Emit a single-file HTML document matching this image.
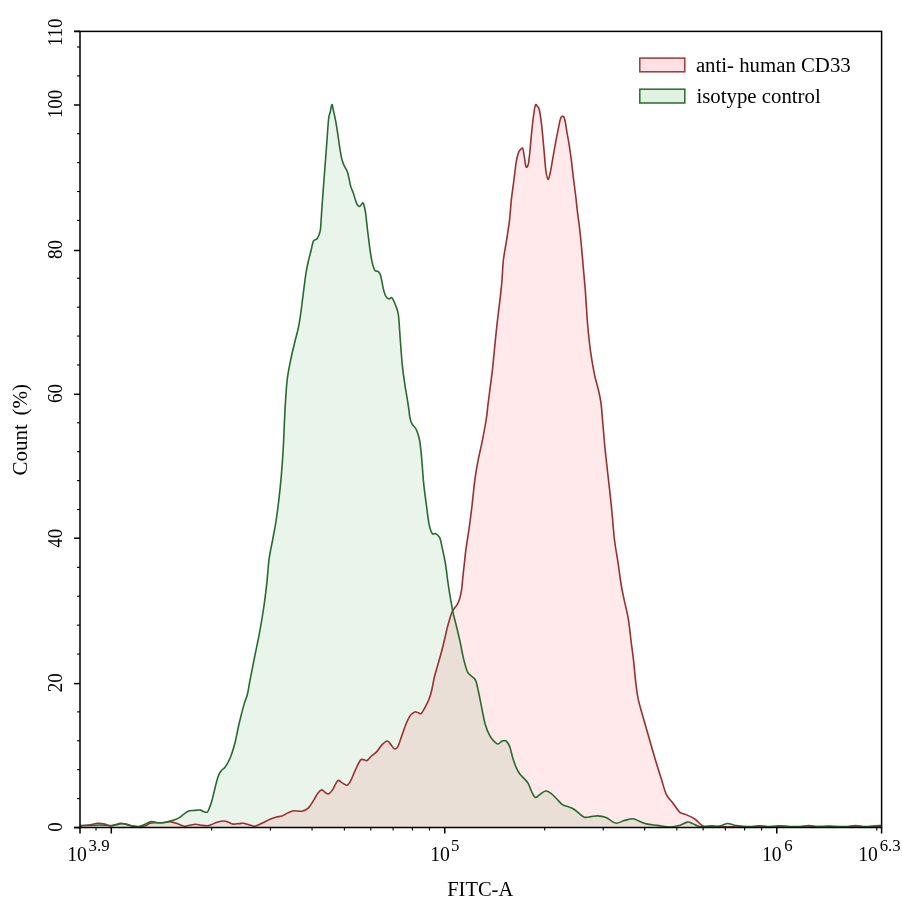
<!DOCTYPE html>
<html><head><meta charset="utf-8"><title>Flow cytometry histogram</title>
<style>
html,body{margin:0;padding:0;background:#fff;}
body{width:902px;height:906px;overflow:hidden;}
svg{display:block;}
.t{font-family:"Liberation Serif","Times New Roman",serif;font-size:20.5px;fill:#000;}
.s{font-family:"Liberation Serif","Times New Roman",serif;font-size:17.5px;fill:#000;}
.l{font-family:"Liberation Serif","Times New Roman",serif;font-size:20.8px;fill:#000;}
</style></head>
<body>
<svg width="902" height="906" viewBox="0 0 902 906">
<rect x="0" y="0" width="902" height="906" fill="#fff"/>
<path d="M80.20 825.50 C81.67 825.50 85.67 825.58 89.00 825.50 C92.33 825.42 96.48 825.00 100.20 825.00 C103.92 825.00 107.62 825.70 111.30 825.50 C114.98 825.30 119.17 823.80 122.30 823.80 C125.43 823.80 127.50 825.03 130.10 825.50 C132.70 825.97 135.50 826.78 137.90 826.60 C140.30 826.42 142.28 825.23 144.50 824.40 C146.72 823.57 148.98 821.88 151.20 821.60 C153.42 821.32 155.22 822.60 157.80 822.70 C160.38 822.80 164.67 822.48 166.70 822.20 C168.73 821.92 168.57 821.43 170.00 821.00 C171.43 820.57 173.67 820.20 175.30 819.60 C176.93 819.00 178.32 818.35 179.80 817.40 C181.28 816.45 182.73 814.97 184.20 813.90 C185.67 812.83 187.12 811.57 188.60 811.00 C190.08 810.43 191.17 810.65 193.10 810.50 C195.03 810.35 198.43 809.92 200.20 810.10 C201.97 810.28 202.52 811.27 203.70 811.60 C204.88 811.93 206.33 812.77 207.30 812.10 C208.27 811.43 208.77 809.38 209.50 807.60 C210.23 805.82 211.03 803.62 211.70 801.40 C212.37 799.18 212.92 796.67 213.50 794.30 C214.08 791.93 214.62 789.55 215.20 787.20 C215.78 784.85 216.33 782.42 217.00 780.20 C217.67 777.98 218.38 775.60 219.20 773.90 C220.02 772.20 220.93 771.10 221.90 770.00 C222.87 768.90 223.90 768.72 225.00 767.30 C226.10 765.88 227.47 763.50 228.50 761.50 C229.53 759.50 230.08 758.55 231.20 755.30 C232.32 752.05 233.93 747.05 235.20 742.00 C236.47 736.95 237.38 731.07 238.80 725.00 C240.22 718.93 242.28 710.65 243.70 705.60 C245.12 700.55 246.28 698.73 247.30 694.70 C248.32 690.67 248.58 687.68 249.80 681.40 C251.02 675.12 252.98 665.10 254.60 657.00 C256.22 648.90 258.00 640.88 259.50 632.80 C261.00 624.72 262.40 616.58 263.60 608.50 C264.80 600.42 265.78 592.55 266.70 584.30 C267.62 576.05 268.08 566.55 269.10 559.00 C270.12 551.45 271.67 545.17 272.80 539.00 C273.93 532.83 274.90 528.47 275.90 522.00 C276.90 515.53 277.90 507.88 278.80 500.20 C279.70 492.52 280.57 484.40 281.30 475.90 C282.03 467.40 282.68 458.10 283.20 449.20 C283.72 440.30 284.03 430.18 284.40 422.50 C284.77 414.82 284.92 410.38 285.40 403.10 C285.88 395.82 286.33 386.40 287.30 378.80 C288.27 371.20 289.90 363.83 291.20 357.50 C292.50 351.17 293.88 345.87 295.10 340.80 C296.32 335.73 297.55 331.75 298.50 327.10 C299.45 322.45 300.12 317.62 300.80 312.90 C301.48 308.18 302.00 303.50 302.60 298.80 C303.20 294.10 303.82 289.10 304.40 284.70 C304.98 280.30 305.47 276.22 306.10 272.40 C306.73 268.58 307.40 265.33 308.20 261.80 C309.00 258.27 310.02 254.68 310.90 251.20 C311.78 247.72 312.47 242.97 313.50 240.90 C314.53 238.83 315.98 240.47 317.10 238.80 C318.22 237.13 319.47 235.02 320.20 230.90 C320.93 226.78 321.08 219.75 321.50 214.10 C321.92 208.45 322.13 204.72 322.70 197.00 C323.27 189.28 324.20 177.07 324.90 167.80 C325.60 158.53 326.28 149.57 326.90 141.40 C327.52 133.23 328.05 123.67 328.60 118.80 C329.15 113.93 329.65 114.58 330.20 112.20 C330.75 109.82 331.35 104.72 331.90 104.50 C332.45 104.28 332.90 108.28 333.50 110.90 C334.10 113.52 334.83 116.67 335.50 120.20 C336.17 123.73 336.85 127.92 337.50 132.10 C338.15 136.28 338.75 141.10 339.40 145.30 C340.05 149.50 340.73 154.20 341.40 157.30 C342.07 160.40 342.73 162.15 343.40 163.90 C344.07 165.65 344.73 166.48 345.40 167.80 C346.07 169.12 346.85 170.25 347.40 171.80 C347.95 173.35 348.15 174.67 348.70 177.10 C349.25 179.53 349.93 183.75 350.70 186.40 C351.47 189.05 352.53 190.80 353.30 193.00 C354.07 195.20 354.63 197.62 355.30 199.60 C355.97 201.58 356.52 203.78 357.30 204.90 C358.08 206.02 359.12 206.63 360.00 206.30 C360.88 205.97 361.95 203.13 362.60 202.90 C363.25 202.67 363.40 203.22 363.90 204.90 C364.40 206.58 364.93 208.32 365.60 213.00 C366.27 217.68 366.98 225.70 367.90 233.00 C368.82 240.30 369.98 250.63 371.10 256.80 C372.22 262.97 373.45 267.58 374.60 270.00 C375.75 272.42 377.00 270.40 378.00 271.30 C379.00 272.20 379.72 272.52 380.60 275.40 C381.48 278.28 382.42 285.10 383.30 288.60 C384.18 292.10 384.93 294.67 385.90 296.40 C386.87 298.13 388.13 298.78 389.10 299.00 C390.07 299.22 390.68 296.82 391.70 297.70 C392.72 298.58 394.08 301.42 395.20 304.30 C396.32 307.18 397.57 309.27 398.40 315.00 C399.23 320.73 399.55 330.33 400.20 338.70 C400.85 347.07 401.52 357.50 402.30 365.20 C403.08 372.90 404.13 379.63 404.90 384.90 C405.67 390.17 406.23 392.67 406.90 396.80 C407.57 400.93 408.40 406.22 408.90 409.70 C409.40 413.18 409.42 415.38 409.90 417.70 C410.38 420.02 410.82 421.78 411.80 423.60 C412.78 425.42 414.80 426.93 415.80 428.60 C416.80 430.27 417.17 431.62 417.80 433.60 C418.43 435.58 419.10 437.87 419.60 440.50 C420.10 443.13 420.43 446.15 420.80 449.40 C421.17 452.65 421.30 454.12 421.80 460.00 C422.30 465.88 423.02 477.07 423.80 484.70 C424.58 492.33 425.62 499.20 426.50 505.80 C427.38 512.40 428.13 519.67 429.10 524.30 C430.07 528.93 431.20 532.05 432.30 533.60 C433.40 535.15 434.47 532.93 435.70 533.60 C436.93 534.27 438.60 535.18 439.70 537.60 C440.80 540.02 441.33 543.70 442.30 548.10 C443.27 552.50 444.62 558.68 445.50 564.00 C446.38 569.32 446.95 575.32 447.60 580.00 C448.25 584.68 448.78 588.25 449.40 592.10 C450.02 595.95 450.68 599.65 451.30 603.10 C451.92 606.55 452.40 609.57 453.10 612.80 C453.80 616.03 454.70 619.27 455.50 622.50 C456.30 625.73 457.08 628.75 457.90 632.20 C458.72 635.65 459.58 639.35 460.40 643.20 C461.22 647.05 462.00 651.67 462.80 655.30 C463.60 658.93 464.38 662.17 465.20 665.00 C466.02 667.83 466.68 670.47 467.70 672.30 C468.72 674.13 470.20 674.98 471.30 676.00 C472.40 677.02 473.48 677.40 474.30 678.40 C475.12 679.40 475.42 679.37 476.20 682.00 C476.98 684.63 478.07 689.85 479.00 694.20 C479.93 698.55 480.77 703.08 481.80 708.10 C482.83 713.12 483.85 719.67 485.20 724.30 C486.55 728.93 488.35 733.00 489.90 735.90 C491.45 738.80 493.15 740.35 494.50 741.70 C495.85 743.05 496.72 744.12 498.00 744.00 C499.28 743.88 500.85 741.50 502.20 741.00 C503.55 740.50 504.87 740.12 506.10 741.00 C507.33 741.88 508.43 743.28 509.60 746.30 C510.77 749.32 511.93 755.42 513.10 759.10 C514.27 762.78 515.45 765.88 516.60 768.40 C517.75 770.92 518.70 772.45 520.00 774.20 C521.30 775.95 523.03 777.37 524.40 778.90 C525.77 780.43 527.00 781.30 528.20 783.40 C529.40 785.50 530.42 789.15 531.60 791.50 C532.78 793.85 533.90 797.02 535.30 797.50 C536.70 797.98 538.30 795.48 540.00 794.40 C541.70 793.32 543.67 791.18 545.50 791.00 C547.33 790.82 549.15 792.00 551.00 793.30 C552.85 794.60 554.75 796.95 556.60 798.80 C558.45 800.65 560.25 803.10 562.10 804.40 C563.95 805.70 565.85 805.87 567.70 806.60 C569.55 807.33 571.35 807.70 573.20 808.80 C575.05 809.90 576.95 811.80 578.80 813.20 C580.65 814.60 582.27 816.63 584.30 817.20 C586.33 817.77 588.78 816.82 591.00 816.60 C593.22 816.38 595.20 815.80 597.60 815.90 C600.00 816.00 603.18 816.42 605.40 817.20 C607.62 817.98 609.05 819.60 610.90 820.60 C612.75 821.60 614.28 823.20 616.50 823.20 C618.72 823.20 621.43 821.33 624.20 820.60 C626.97 819.87 630.52 818.67 633.10 818.80 C635.68 818.93 637.48 820.55 639.70 821.40 C641.92 822.25 643.43 823.23 646.40 823.90 C649.37 824.57 653.43 824.88 657.50 825.40 C661.57 825.92 667.12 827.00 670.80 827.00 C674.48 827.00 676.83 826.22 679.60 825.40 C682.37 824.58 685.17 822.38 687.40 822.10 C689.63 821.82 690.97 822.97 693.00 823.70 C695.03 824.43 696.40 826.02 699.60 826.50 C702.80 826.98 708.63 826.73 712.20 826.60 C715.77 826.47 718.42 826.22 721.00 825.70 C723.58 825.18 725.48 823.58 727.70 823.50 C729.92 823.42 731.72 824.73 734.30 825.20 C736.88 825.67 740.25 826.07 743.20 826.30 C746.15 826.53 749.23 826.70 752.00 826.60 C754.77 826.50 757.20 825.70 759.80 825.70 C762.40 825.70 764.45 826.60 767.60 826.60 C770.75 826.60 775.00 825.70 778.70 825.70 C782.40 825.70 786.25 826.47 789.80 826.60 C793.35 826.73 796.80 826.68 800.00 826.50 C803.20 826.32 806.00 825.48 809.00 825.50 C812.00 825.52 814.50 826.42 818.00 826.60 C821.50 826.78 825.50 826.60 830.00 826.60 C834.50 826.60 840.75 826.78 845.00 826.60 C849.25 826.42 852.00 825.50 855.50 825.50 C859.00 825.50 862.03 826.60 866.00 826.60 C869.97 826.60 876.80 825.63 879.30 825.50 C881.80 825.37 880.72 825.75 881.00 825.80 L881.00 827.50 L80.20 827.50 Z" fill="#e9f4eb"/>
<path d="M80.20 826.00 C81.67 825.83 86.03 825.45 89.00 825.00 C91.97 824.55 95.40 823.45 98.00 823.30 C100.60 823.15 102.38 823.65 104.60 824.10 C106.82 824.55 108.72 826.13 111.30 826.00 C113.88 825.87 117.52 823.57 120.10 823.30 C122.68 823.03 124.22 823.85 126.80 824.40 C129.38 824.95 132.65 826.33 135.60 826.60 C138.55 826.87 142.08 826.55 144.50 826.00 C146.92 825.45 148.25 823.85 150.10 823.30 C151.95 822.75 153.57 822.80 155.60 822.70 C157.63 822.60 159.90 822.88 162.30 822.70 C164.70 822.52 167.53 821.45 170.00 821.60 C172.47 821.75 174.73 822.82 177.10 823.60 C179.47 824.38 182.13 826.03 184.20 826.30 C186.27 826.57 187.58 825.53 189.50 825.20 C191.42 824.87 193.78 824.30 195.70 824.30 C197.62 824.30 199.07 824.95 201.00 825.20 C202.93 825.45 205.52 825.92 207.30 825.80 C209.08 825.68 210.08 825.08 211.70 824.50 C213.32 823.92 214.93 822.88 217.00 822.30 C219.07 821.72 222.18 821.00 224.10 821.00 C226.02 821.00 227.02 821.78 228.50 822.30 C229.98 822.82 231.22 823.88 233.00 824.10 C234.78 824.32 237.43 823.75 239.20 823.60 C240.97 823.45 242.13 823.05 243.60 823.20 C245.07 823.35 246.27 824.00 248.00 824.50 C249.73 825.00 252.33 826.10 254.00 826.20 C255.67 826.30 256.45 825.72 258.00 825.10 C259.55 824.48 261.30 823.48 263.30 822.50 C265.30 821.52 267.78 820.13 270.00 819.20 C272.22 818.27 274.62 817.42 276.60 816.90 C278.58 816.38 279.90 816.83 281.90 816.10 C283.90 815.37 286.60 813.38 288.60 812.50 C290.60 811.62 291.68 811.02 293.90 810.80 C296.12 810.58 299.47 811.70 301.90 811.20 C304.33 810.70 306.50 809.68 308.50 807.80 C310.50 805.92 312.35 802.33 313.90 799.90 C315.45 797.47 316.48 794.87 317.80 793.20 C319.12 791.53 320.57 790.02 321.80 789.90 C323.03 789.78 324.08 791.83 325.20 792.50 C326.32 793.17 327.28 794.33 328.50 793.90 C329.72 793.47 330.95 792.12 332.50 789.90 C334.05 787.68 336.25 781.82 337.80 780.60 C339.35 779.38 340.25 781.83 341.80 782.60 C343.35 783.37 345.55 785.65 347.10 785.20 C348.65 784.75 349.77 782.33 351.10 779.90 C352.43 777.47 353.58 773.83 355.10 770.60 C356.62 767.37 358.80 762.33 360.20 760.50 C361.60 758.67 362.35 759.60 363.50 759.60 C364.65 759.60 365.77 761.10 367.10 760.50 C368.43 759.90 369.88 757.48 371.50 756.00 C373.12 754.52 375.03 753.50 376.80 751.60 C378.57 749.70 380.33 746.37 382.10 744.60 C383.87 742.83 385.93 741.00 387.40 741.00 C388.87 741.00 389.72 743.27 390.90 744.60 C392.08 745.93 393.32 748.72 394.50 749.00 C395.68 749.28 396.83 748.37 398.00 746.30 C399.17 744.23 400.18 740.28 401.50 736.60 C402.82 732.92 404.42 727.73 405.90 724.20 C407.38 720.67 408.92 717.45 410.40 715.40 C411.88 713.35 413.48 712.33 414.80 711.90 C416.12 711.47 417.27 712.52 418.30 712.80 C419.33 713.08 419.97 714.35 421.00 713.60 C422.03 712.85 423.18 710.65 424.50 708.30 C425.82 705.95 427.72 702.43 428.90 699.50 C430.08 696.57 430.67 694.53 431.60 690.70 C432.53 686.87 433.52 680.63 434.50 676.50 C435.48 672.37 436.37 669.90 437.50 665.90 C438.63 661.90 440.12 656.93 441.30 652.50 C442.48 648.07 443.65 643.28 444.60 639.30 C445.55 635.32 446.20 631.80 447.00 628.60 C447.80 625.40 448.58 622.83 449.40 620.10 C450.22 617.37 451.08 614.13 451.90 612.20 C452.72 610.27 453.40 609.82 454.30 608.50 C455.20 607.18 456.38 606.02 457.30 604.30 C458.22 602.58 459.08 600.63 459.80 598.20 C460.52 595.77 461.10 593.07 461.60 589.70 C462.10 586.33 462.32 582.62 462.80 578.00 C463.28 573.38 463.95 566.98 464.50 562.00 C465.05 557.02 465.30 553.93 466.10 548.10 C466.90 542.27 468.32 534.05 469.30 527.00 C470.28 519.95 471.07 513.73 472.00 505.80 C472.93 497.87 473.90 486.90 474.90 479.40 C475.90 471.90 476.82 466.98 478.00 460.80 C479.18 454.62 480.62 449.27 482.00 442.30 C483.38 435.33 485.28 425.45 486.30 419.00 C487.32 412.55 487.47 408.75 488.10 403.60 C488.73 398.45 489.43 393.25 490.10 388.10 C490.77 382.95 491.50 377.85 492.10 372.70 C492.70 367.55 493.18 362.35 493.70 357.20 C494.22 352.05 494.68 346.95 495.20 341.80 C495.72 336.65 496.23 331.45 496.80 326.30 C497.37 321.15 497.98 316.05 498.60 310.90 C499.22 305.75 499.93 300.55 500.50 295.40 C501.07 290.25 501.52 285.90 502.00 280.00 C502.48 274.10 502.65 266.57 503.40 260.00 C504.15 253.43 505.50 247.08 506.50 240.60 C507.50 234.12 508.58 227.98 509.40 221.10 C510.22 214.22 510.67 205.97 511.40 199.30 C512.13 192.63 513.03 187.08 513.80 181.10 C514.57 175.12 515.27 168.00 516.00 163.40 C516.73 158.80 517.45 155.80 518.20 153.50 C518.95 151.20 519.75 150.43 520.50 149.60 C521.25 148.77 522.07 147.30 522.70 148.50 C523.33 149.70 523.75 153.77 524.30 156.80 C524.85 159.83 525.35 165.42 526.00 166.70 C526.65 167.98 527.57 166.88 528.20 164.50 C528.83 162.12 529.25 157.55 529.80 152.40 C530.35 147.25 530.88 139.67 531.50 133.60 C532.12 127.53 532.85 120.77 533.50 116.00 C534.15 111.23 534.72 106.57 535.40 105.00 C536.08 103.43 536.97 105.88 537.60 106.60 C538.23 107.32 538.65 107.18 539.20 109.30 C539.75 111.42 540.35 115.25 540.90 119.30 C541.45 123.35 541.95 128.08 542.50 133.60 C543.05 139.12 543.65 146.33 544.20 152.40 C544.75 158.47 545.17 165.50 545.80 170.00 C546.43 174.50 547.25 179.02 548.00 179.40 C548.75 179.78 549.55 175.52 550.30 172.30 C551.05 169.08 551.68 164.70 552.50 160.10 C553.32 155.50 554.28 149.67 555.20 144.70 C556.12 139.73 557.08 134.72 558.00 130.30 C558.92 125.88 559.78 120.50 560.70 118.20 C561.62 115.90 562.75 115.95 563.50 116.50 C564.25 117.05 564.65 119.02 565.20 121.50 C565.75 123.98 566.17 127.72 566.80 131.40 C567.43 135.08 568.27 139.00 569.00 143.60 C569.73 148.20 570.47 153.30 571.20 159.00 C571.93 164.70 572.67 171.80 573.40 177.80 C574.13 183.80 574.93 189.40 575.60 195.00 C576.27 200.60 576.68 205.43 577.40 211.40 C578.12 217.37 579.17 224.32 579.90 230.80 C580.63 237.28 581.20 243.82 581.80 250.30 C582.40 256.78 582.93 263.23 583.50 269.70 C584.07 276.17 584.68 282.38 585.20 289.10 C585.72 295.82 586.17 303.77 586.60 310.00 C587.03 316.23 587.17 319.78 587.80 326.50 C588.43 333.22 589.30 342.37 590.40 350.30 C591.50 358.23 593.07 367.48 594.40 374.10 C595.73 380.72 597.30 385.15 598.40 390.00 C599.50 394.85 600.25 397.48 601.00 403.20 C601.75 408.92 602.23 416.82 602.90 424.30 C603.57 431.78 604.22 440.15 605.00 448.10 C605.78 456.05 606.72 464.05 607.60 472.00 C608.48 479.95 609.50 488.30 610.30 495.80 C611.10 503.30 611.70 509.63 612.40 517.00 C613.10 524.37 613.60 532.63 614.50 540.00 C615.40 547.37 616.68 553.70 617.80 561.20 C618.92 568.70 620.10 578.40 621.20 585.00 C622.30 591.60 623.20 595.07 624.40 600.80 C625.60 606.53 627.30 612.78 628.40 619.40 C629.50 626.02 630.12 633.45 631.00 640.50 C631.88 647.55 632.95 655.08 633.70 661.70 C634.45 668.32 634.77 674.03 635.50 680.20 C636.23 686.37 636.95 692.97 638.10 698.70 C639.25 704.43 640.93 709.30 642.40 714.60 C643.87 719.90 645.27 724.77 646.90 730.50 C648.53 736.23 650.67 743.72 652.20 749.00 C653.73 754.28 655.00 758.53 656.10 762.20 C657.20 765.87 657.82 767.87 658.80 771.00 C659.78 774.13 660.75 777.10 662.00 781.00 C663.25 784.90 664.47 790.68 666.30 794.40 C668.13 798.12 670.78 800.35 673.00 803.30 C675.22 806.25 677.75 810.33 679.60 812.10 C681.45 813.87 682.25 813.15 684.10 813.90 C685.95 814.65 688.80 815.67 690.70 816.60 C692.60 817.53 693.78 818.17 695.50 819.50 C697.22 820.83 699.52 823.47 701.00 824.60 C702.48 825.73 702.53 826.12 704.40 826.30 C706.27 826.48 709.80 825.62 712.20 825.70 C714.60 825.78 714.17 826.62 718.80 826.80 C723.43 826.98 733.13 826.80 740.00 826.80 C746.87 826.80 753.33 826.80 760.00 826.80 C766.67 826.80 773.33 826.80 780.00 826.80 C786.67 826.80 793.33 826.85 800.00 826.80 C806.67 826.75 815.08 826.63 820.00 826.50 C824.92 826.37 826.17 825.95 829.50 826.00 C832.83 826.05 831.42 826.67 840.00 826.80 C848.58 826.93 874.17 826.80 881.00 826.80 L881.00 827.50 L80.20 827.50 Z" fill="#ffe9ea" style="mix-blend-mode:multiply"/>
<path d="M80.20 826.00 C81.67 825.83 86.03 825.45 89.00 825.00 C91.97 824.55 95.40 823.45 98.00 823.30 C100.60 823.15 102.38 823.65 104.60 824.10 C106.82 824.55 108.72 826.13 111.30 826.00 C113.88 825.87 117.52 823.57 120.10 823.30 C122.68 823.03 124.22 823.85 126.80 824.40 C129.38 824.95 132.65 826.33 135.60 826.60 C138.55 826.87 142.08 826.55 144.50 826.00 C146.92 825.45 148.25 823.85 150.10 823.30 C151.95 822.75 153.57 822.80 155.60 822.70 C157.63 822.60 159.90 822.88 162.30 822.70 C164.70 822.52 167.53 821.45 170.00 821.60 C172.47 821.75 174.73 822.82 177.10 823.60 C179.47 824.38 182.13 826.03 184.20 826.30 C186.27 826.57 187.58 825.53 189.50 825.20 C191.42 824.87 193.78 824.30 195.70 824.30 C197.62 824.30 199.07 824.95 201.00 825.20 C202.93 825.45 205.52 825.92 207.30 825.80 C209.08 825.68 210.08 825.08 211.70 824.50 C213.32 823.92 214.93 822.88 217.00 822.30 C219.07 821.72 222.18 821.00 224.10 821.00 C226.02 821.00 227.02 821.78 228.50 822.30 C229.98 822.82 231.22 823.88 233.00 824.10 C234.78 824.32 237.43 823.75 239.20 823.60 C240.97 823.45 242.13 823.05 243.60 823.20 C245.07 823.35 246.27 824.00 248.00 824.50 C249.73 825.00 252.33 826.10 254.00 826.20 C255.67 826.30 256.45 825.72 258.00 825.10 C259.55 824.48 261.30 823.48 263.30 822.50 C265.30 821.52 267.78 820.13 270.00 819.20 C272.22 818.27 274.62 817.42 276.60 816.90 C278.58 816.38 279.90 816.83 281.90 816.10 C283.90 815.37 286.60 813.38 288.60 812.50 C290.60 811.62 291.68 811.02 293.90 810.80 C296.12 810.58 299.47 811.70 301.90 811.20 C304.33 810.70 306.50 809.68 308.50 807.80 C310.50 805.92 312.35 802.33 313.90 799.90 C315.45 797.47 316.48 794.87 317.80 793.20 C319.12 791.53 320.57 790.02 321.80 789.90 C323.03 789.78 324.08 791.83 325.20 792.50 C326.32 793.17 327.28 794.33 328.50 793.90 C329.72 793.47 330.95 792.12 332.50 789.90 C334.05 787.68 336.25 781.82 337.80 780.60 C339.35 779.38 340.25 781.83 341.80 782.60 C343.35 783.37 345.55 785.65 347.10 785.20 C348.65 784.75 349.77 782.33 351.10 779.90 C352.43 777.47 353.58 773.83 355.10 770.60 C356.62 767.37 358.80 762.33 360.20 760.50 C361.60 758.67 362.35 759.60 363.50 759.60 C364.65 759.60 365.77 761.10 367.10 760.50 C368.43 759.90 369.88 757.48 371.50 756.00 C373.12 754.52 375.03 753.50 376.80 751.60 C378.57 749.70 380.33 746.37 382.10 744.60 C383.87 742.83 385.93 741.00 387.40 741.00 C388.87 741.00 389.72 743.27 390.90 744.60 C392.08 745.93 393.32 748.72 394.50 749.00 C395.68 749.28 396.83 748.37 398.00 746.30 C399.17 744.23 400.18 740.28 401.50 736.60 C402.82 732.92 404.42 727.73 405.90 724.20 C407.38 720.67 408.92 717.45 410.40 715.40 C411.88 713.35 413.48 712.33 414.80 711.90 C416.12 711.47 417.27 712.52 418.30 712.80 C419.33 713.08 419.97 714.35 421.00 713.60 C422.03 712.85 423.18 710.65 424.50 708.30 C425.82 705.95 427.72 702.43 428.90 699.50 C430.08 696.57 430.67 694.53 431.60 690.70 C432.53 686.87 433.52 680.63 434.50 676.50 C435.48 672.37 436.37 669.90 437.50 665.90 C438.63 661.90 440.12 656.93 441.30 652.50 C442.48 648.07 443.65 643.28 444.60 639.30 C445.55 635.32 446.20 631.80 447.00 628.60 C447.80 625.40 448.58 622.83 449.40 620.10 C450.22 617.37 451.08 614.13 451.90 612.20 C452.72 610.27 453.40 609.82 454.30 608.50 C455.20 607.18 456.38 606.02 457.30 604.30 C458.22 602.58 459.08 600.63 459.80 598.20 C460.52 595.77 461.10 593.07 461.60 589.70 C462.10 586.33 462.32 582.62 462.80 578.00 C463.28 573.38 463.95 566.98 464.50 562.00 C465.05 557.02 465.30 553.93 466.10 548.10 C466.90 542.27 468.32 534.05 469.30 527.00 C470.28 519.95 471.07 513.73 472.00 505.80 C472.93 497.87 473.90 486.90 474.90 479.40 C475.90 471.90 476.82 466.98 478.00 460.80 C479.18 454.62 480.62 449.27 482.00 442.30 C483.38 435.33 485.28 425.45 486.30 419.00 C487.32 412.55 487.47 408.75 488.10 403.60 C488.73 398.45 489.43 393.25 490.10 388.10 C490.77 382.95 491.50 377.85 492.10 372.70 C492.70 367.55 493.18 362.35 493.70 357.20 C494.22 352.05 494.68 346.95 495.20 341.80 C495.72 336.65 496.23 331.45 496.80 326.30 C497.37 321.15 497.98 316.05 498.60 310.90 C499.22 305.75 499.93 300.55 500.50 295.40 C501.07 290.25 501.52 285.90 502.00 280.00 C502.48 274.10 502.65 266.57 503.40 260.00 C504.15 253.43 505.50 247.08 506.50 240.60 C507.50 234.12 508.58 227.98 509.40 221.10 C510.22 214.22 510.67 205.97 511.40 199.30 C512.13 192.63 513.03 187.08 513.80 181.10 C514.57 175.12 515.27 168.00 516.00 163.40 C516.73 158.80 517.45 155.80 518.20 153.50 C518.95 151.20 519.75 150.43 520.50 149.60 C521.25 148.77 522.07 147.30 522.70 148.50 C523.33 149.70 523.75 153.77 524.30 156.80 C524.85 159.83 525.35 165.42 526.00 166.70 C526.65 167.98 527.57 166.88 528.20 164.50 C528.83 162.12 529.25 157.55 529.80 152.40 C530.35 147.25 530.88 139.67 531.50 133.60 C532.12 127.53 532.85 120.77 533.50 116.00 C534.15 111.23 534.72 106.57 535.40 105.00 C536.08 103.43 536.97 105.88 537.60 106.60 C538.23 107.32 538.65 107.18 539.20 109.30 C539.75 111.42 540.35 115.25 540.90 119.30 C541.45 123.35 541.95 128.08 542.50 133.60 C543.05 139.12 543.65 146.33 544.20 152.40 C544.75 158.47 545.17 165.50 545.80 170.00 C546.43 174.50 547.25 179.02 548.00 179.40 C548.75 179.78 549.55 175.52 550.30 172.30 C551.05 169.08 551.68 164.70 552.50 160.10 C553.32 155.50 554.28 149.67 555.20 144.70 C556.12 139.73 557.08 134.72 558.00 130.30 C558.92 125.88 559.78 120.50 560.70 118.20 C561.62 115.90 562.75 115.95 563.50 116.50 C564.25 117.05 564.65 119.02 565.20 121.50 C565.75 123.98 566.17 127.72 566.80 131.40 C567.43 135.08 568.27 139.00 569.00 143.60 C569.73 148.20 570.47 153.30 571.20 159.00 C571.93 164.70 572.67 171.80 573.40 177.80 C574.13 183.80 574.93 189.40 575.60 195.00 C576.27 200.60 576.68 205.43 577.40 211.40 C578.12 217.37 579.17 224.32 579.90 230.80 C580.63 237.28 581.20 243.82 581.80 250.30 C582.40 256.78 582.93 263.23 583.50 269.70 C584.07 276.17 584.68 282.38 585.20 289.10 C585.72 295.82 586.17 303.77 586.60 310.00 C587.03 316.23 587.17 319.78 587.80 326.50 C588.43 333.22 589.30 342.37 590.40 350.30 C591.50 358.23 593.07 367.48 594.40 374.10 C595.73 380.72 597.30 385.15 598.40 390.00 C599.50 394.85 600.25 397.48 601.00 403.20 C601.75 408.92 602.23 416.82 602.90 424.30 C603.57 431.78 604.22 440.15 605.00 448.10 C605.78 456.05 606.72 464.05 607.60 472.00 C608.48 479.95 609.50 488.30 610.30 495.80 C611.10 503.30 611.70 509.63 612.40 517.00 C613.10 524.37 613.60 532.63 614.50 540.00 C615.40 547.37 616.68 553.70 617.80 561.20 C618.92 568.70 620.10 578.40 621.20 585.00 C622.30 591.60 623.20 595.07 624.40 600.80 C625.60 606.53 627.30 612.78 628.40 619.40 C629.50 626.02 630.12 633.45 631.00 640.50 C631.88 647.55 632.95 655.08 633.70 661.70 C634.45 668.32 634.77 674.03 635.50 680.20 C636.23 686.37 636.95 692.97 638.10 698.70 C639.25 704.43 640.93 709.30 642.40 714.60 C643.87 719.90 645.27 724.77 646.90 730.50 C648.53 736.23 650.67 743.72 652.20 749.00 C653.73 754.28 655.00 758.53 656.10 762.20 C657.20 765.87 657.82 767.87 658.80 771.00 C659.78 774.13 660.75 777.10 662.00 781.00 C663.25 784.90 664.47 790.68 666.30 794.40 C668.13 798.12 670.78 800.35 673.00 803.30 C675.22 806.25 677.75 810.33 679.60 812.10 C681.45 813.87 682.25 813.15 684.10 813.90 C685.95 814.65 688.80 815.67 690.70 816.60 C692.60 817.53 693.78 818.17 695.50 819.50 C697.22 820.83 699.52 823.47 701.00 824.60 C702.48 825.73 702.53 826.12 704.40 826.30 C706.27 826.48 709.80 825.62 712.20 825.70 C714.60 825.78 714.17 826.62 718.80 826.80 C723.43 826.98 733.13 826.80 740.00 826.80 C746.87 826.80 753.33 826.80 760.00 826.80 C766.67 826.80 773.33 826.80 780.00 826.80 C786.67 826.80 793.33 826.85 800.00 826.80 C806.67 826.75 815.08 826.63 820.00 826.50 C824.92 826.37 826.17 825.95 829.50 826.00 C832.83 826.05 831.42 826.67 840.00 826.80 C848.58 826.93 874.17 826.80 881.00 826.80" fill="none" stroke="#983030" stroke-width="1.6" stroke-linejoin="round"/>
<path d="M80.20 825.50 C81.67 825.50 85.67 825.58 89.00 825.50 C92.33 825.42 96.48 825.00 100.20 825.00 C103.92 825.00 107.62 825.70 111.30 825.50 C114.98 825.30 119.17 823.80 122.30 823.80 C125.43 823.80 127.50 825.03 130.10 825.50 C132.70 825.97 135.50 826.78 137.90 826.60 C140.30 826.42 142.28 825.23 144.50 824.40 C146.72 823.57 148.98 821.88 151.20 821.60 C153.42 821.32 155.22 822.60 157.80 822.70 C160.38 822.80 164.67 822.48 166.70 822.20 C168.73 821.92 168.57 821.43 170.00 821.00 C171.43 820.57 173.67 820.20 175.30 819.60 C176.93 819.00 178.32 818.35 179.80 817.40 C181.28 816.45 182.73 814.97 184.20 813.90 C185.67 812.83 187.12 811.57 188.60 811.00 C190.08 810.43 191.17 810.65 193.10 810.50 C195.03 810.35 198.43 809.92 200.20 810.10 C201.97 810.28 202.52 811.27 203.70 811.60 C204.88 811.93 206.33 812.77 207.30 812.10 C208.27 811.43 208.77 809.38 209.50 807.60 C210.23 805.82 211.03 803.62 211.70 801.40 C212.37 799.18 212.92 796.67 213.50 794.30 C214.08 791.93 214.62 789.55 215.20 787.20 C215.78 784.85 216.33 782.42 217.00 780.20 C217.67 777.98 218.38 775.60 219.20 773.90 C220.02 772.20 220.93 771.10 221.90 770.00 C222.87 768.90 223.90 768.72 225.00 767.30 C226.10 765.88 227.47 763.50 228.50 761.50 C229.53 759.50 230.08 758.55 231.20 755.30 C232.32 752.05 233.93 747.05 235.20 742.00 C236.47 736.95 237.38 731.07 238.80 725.00 C240.22 718.93 242.28 710.65 243.70 705.60 C245.12 700.55 246.28 698.73 247.30 694.70 C248.32 690.67 248.58 687.68 249.80 681.40 C251.02 675.12 252.98 665.10 254.60 657.00 C256.22 648.90 258.00 640.88 259.50 632.80 C261.00 624.72 262.40 616.58 263.60 608.50 C264.80 600.42 265.78 592.55 266.70 584.30 C267.62 576.05 268.08 566.55 269.10 559.00 C270.12 551.45 271.67 545.17 272.80 539.00 C273.93 532.83 274.90 528.47 275.90 522.00 C276.90 515.53 277.90 507.88 278.80 500.20 C279.70 492.52 280.57 484.40 281.30 475.90 C282.03 467.40 282.68 458.10 283.20 449.20 C283.72 440.30 284.03 430.18 284.40 422.50 C284.77 414.82 284.92 410.38 285.40 403.10 C285.88 395.82 286.33 386.40 287.30 378.80 C288.27 371.20 289.90 363.83 291.20 357.50 C292.50 351.17 293.88 345.87 295.10 340.80 C296.32 335.73 297.55 331.75 298.50 327.10 C299.45 322.45 300.12 317.62 300.80 312.90 C301.48 308.18 302.00 303.50 302.60 298.80 C303.20 294.10 303.82 289.10 304.40 284.70 C304.98 280.30 305.47 276.22 306.10 272.40 C306.73 268.58 307.40 265.33 308.20 261.80 C309.00 258.27 310.02 254.68 310.90 251.20 C311.78 247.72 312.47 242.97 313.50 240.90 C314.53 238.83 315.98 240.47 317.10 238.80 C318.22 237.13 319.47 235.02 320.20 230.90 C320.93 226.78 321.08 219.75 321.50 214.10 C321.92 208.45 322.13 204.72 322.70 197.00 C323.27 189.28 324.20 177.07 324.90 167.80 C325.60 158.53 326.28 149.57 326.90 141.40 C327.52 133.23 328.05 123.67 328.60 118.80 C329.15 113.93 329.65 114.58 330.20 112.20 C330.75 109.82 331.35 104.72 331.90 104.50 C332.45 104.28 332.90 108.28 333.50 110.90 C334.10 113.52 334.83 116.67 335.50 120.20 C336.17 123.73 336.85 127.92 337.50 132.10 C338.15 136.28 338.75 141.10 339.40 145.30 C340.05 149.50 340.73 154.20 341.40 157.30 C342.07 160.40 342.73 162.15 343.40 163.90 C344.07 165.65 344.73 166.48 345.40 167.80 C346.07 169.12 346.85 170.25 347.40 171.80 C347.95 173.35 348.15 174.67 348.70 177.10 C349.25 179.53 349.93 183.75 350.70 186.40 C351.47 189.05 352.53 190.80 353.30 193.00 C354.07 195.20 354.63 197.62 355.30 199.60 C355.97 201.58 356.52 203.78 357.30 204.90 C358.08 206.02 359.12 206.63 360.00 206.30 C360.88 205.97 361.95 203.13 362.60 202.90 C363.25 202.67 363.40 203.22 363.90 204.90 C364.40 206.58 364.93 208.32 365.60 213.00 C366.27 217.68 366.98 225.70 367.90 233.00 C368.82 240.30 369.98 250.63 371.10 256.80 C372.22 262.97 373.45 267.58 374.60 270.00 C375.75 272.42 377.00 270.40 378.00 271.30 C379.00 272.20 379.72 272.52 380.60 275.40 C381.48 278.28 382.42 285.10 383.30 288.60 C384.18 292.10 384.93 294.67 385.90 296.40 C386.87 298.13 388.13 298.78 389.10 299.00 C390.07 299.22 390.68 296.82 391.70 297.70 C392.72 298.58 394.08 301.42 395.20 304.30 C396.32 307.18 397.57 309.27 398.40 315.00 C399.23 320.73 399.55 330.33 400.20 338.70 C400.85 347.07 401.52 357.50 402.30 365.20 C403.08 372.90 404.13 379.63 404.90 384.90 C405.67 390.17 406.23 392.67 406.90 396.80 C407.57 400.93 408.40 406.22 408.90 409.70 C409.40 413.18 409.42 415.38 409.90 417.70 C410.38 420.02 410.82 421.78 411.80 423.60 C412.78 425.42 414.80 426.93 415.80 428.60 C416.80 430.27 417.17 431.62 417.80 433.60 C418.43 435.58 419.10 437.87 419.60 440.50 C420.10 443.13 420.43 446.15 420.80 449.40 C421.17 452.65 421.30 454.12 421.80 460.00 C422.30 465.88 423.02 477.07 423.80 484.70 C424.58 492.33 425.62 499.20 426.50 505.80 C427.38 512.40 428.13 519.67 429.10 524.30 C430.07 528.93 431.20 532.05 432.30 533.60 C433.40 535.15 434.47 532.93 435.70 533.60 C436.93 534.27 438.60 535.18 439.70 537.60 C440.80 540.02 441.33 543.70 442.30 548.10 C443.27 552.50 444.62 558.68 445.50 564.00 C446.38 569.32 446.95 575.32 447.60 580.00 C448.25 584.68 448.78 588.25 449.40 592.10 C450.02 595.95 450.68 599.65 451.30 603.10 C451.92 606.55 452.40 609.57 453.10 612.80 C453.80 616.03 454.70 619.27 455.50 622.50 C456.30 625.73 457.08 628.75 457.90 632.20 C458.72 635.65 459.58 639.35 460.40 643.20 C461.22 647.05 462.00 651.67 462.80 655.30 C463.60 658.93 464.38 662.17 465.20 665.00 C466.02 667.83 466.68 670.47 467.70 672.30 C468.72 674.13 470.20 674.98 471.30 676.00 C472.40 677.02 473.48 677.40 474.30 678.40 C475.12 679.40 475.42 679.37 476.20 682.00 C476.98 684.63 478.07 689.85 479.00 694.20 C479.93 698.55 480.77 703.08 481.80 708.10 C482.83 713.12 483.85 719.67 485.20 724.30 C486.55 728.93 488.35 733.00 489.90 735.90 C491.45 738.80 493.15 740.35 494.50 741.70 C495.85 743.05 496.72 744.12 498.00 744.00 C499.28 743.88 500.85 741.50 502.20 741.00 C503.55 740.50 504.87 740.12 506.10 741.00 C507.33 741.88 508.43 743.28 509.60 746.30 C510.77 749.32 511.93 755.42 513.10 759.10 C514.27 762.78 515.45 765.88 516.60 768.40 C517.75 770.92 518.70 772.45 520.00 774.20 C521.30 775.95 523.03 777.37 524.40 778.90 C525.77 780.43 527.00 781.30 528.20 783.40 C529.40 785.50 530.42 789.15 531.60 791.50 C532.78 793.85 533.90 797.02 535.30 797.50 C536.70 797.98 538.30 795.48 540.00 794.40 C541.70 793.32 543.67 791.18 545.50 791.00 C547.33 790.82 549.15 792.00 551.00 793.30 C552.85 794.60 554.75 796.95 556.60 798.80 C558.45 800.65 560.25 803.10 562.10 804.40 C563.95 805.70 565.85 805.87 567.70 806.60 C569.55 807.33 571.35 807.70 573.20 808.80 C575.05 809.90 576.95 811.80 578.80 813.20 C580.65 814.60 582.27 816.63 584.30 817.20 C586.33 817.77 588.78 816.82 591.00 816.60 C593.22 816.38 595.20 815.80 597.60 815.90 C600.00 816.00 603.18 816.42 605.40 817.20 C607.62 817.98 609.05 819.60 610.90 820.60 C612.75 821.60 614.28 823.20 616.50 823.20 C618.72 823.20 621.43 821.33 624.20 820.60 C626.97 819.87 630.52 818.67 633.10 818.80 C635.68 818.93 637.48 820.55 639.70 821.40 C641.92 822.25 643.43 823.23 646.40 823.90 C649.37 824.57 653.43 824.88 657.50 825.40 C661.57 825.92 667.12 827.00 670.80 827.00 C674.48 827.00 676.83 826.22 679.60 825.40 C682.37 824.58 685.17 822.38 687.40 822.10 C689.63 821.82 690.97 822.97 693.00 823.70 C695.03 824.43 696.40 826.02 699.60 826.50 C702.80 826.98 708.63 826.73 712.20 826.60 C715.77 826.47 718.42 826.22 721.00 825.70 C723.58 825.18 725.48 823.58 727.70 823.50 C729.92 823.42 731.72 824.73 734.30 825.20 C736.88 825.67 740.25 826.07 743.20 826.30 C746.15 826.53 749.23 826.70 752.00 826.60 C754.77 826.50 757.20 825.70 759.80 825.70 C762.40 825.70 764.45 826.60 767.60 826.60 C770.75 826.60 775.00 825.70 778.70 825.70 C782.40 825.70 786.25 826.47 789.80 826.60 C793.35 826.73 796.80 826.68 800.00 826.50 C803.20 826.32 806.00 825.48 809.00 825.50 C812.00 825.52 814.50 826.42 818.00 826.60 C821.50 826.78 825.50 826.60 830.00 826.60 C834.50 826.60 840.75 826.78 845.00 826.60 C849.25 826.42 852.00 825.50 855.50 825.50 C859.00 825.50 862.03 826.60 866.00 826.60 C869.97 826.60 876.80 825.63 879.30 825.50 C881.80 825.37 880.72 825.75 881.00 825.80" fill="none" stroke="#286a2e" stroke-width="1.6" stroke-linejoin="round"/>
<rect x="80" y="31.4" width="801.6" height="796.1" fill="none" stroke="#000" stroke-width="1.5"/>
<line x1="74.0" y1="827.60" x2="80" y2="827.60" stroke="#000" stroke-width="1.5"/>
<line x1="77.0" y1="798.59" x2="80" y2="798.59" stroke="#000" stroke-width="1.1"/>
<line x1="77.0" y1="769.68" x2="80" y2="769.68" stroke="#000" stroke-width="1.1"/>
<line x1="77.0" y1="740.78" x2="80" y2="740.78" stroke="#000" stroke-width="1.1"/>
<line x1="77.0" y1="711.87" x2="80" y2="711.87" stroke="#000" stroke-width="1.1"/>
<line x1="74.0" y1="683.60" x2="80" y2="683.60" stroke="#000" stroke-width="1.5"/>
<line x1="77.0" y1="654.05" x2="80" y2="654.05" stroke="#000" stroke-width="1.1"/>
<line x1="77.0" y1="625.14" x2="80" y2="625.14" stroke="#000" stroke-width="1.1"/>
<line x1="77.0" y1="596.24" x2="80" y2="596.24" stroke="#000" stroke-width="1.1"/>
<line x1="77.0" y1="567.33" x2="80" y2="567.33" stroke="#000" stroke-width="1.1"/>
<line x1="74.0" y1="538.20" x2="80" y2="538.20" stroke="#000" stroke-width="1.5"/>
<line x1="77.0" y1="509.51" x2="80" y2="509.51" stroke="#000" stroke-width="1.1"/>
<line x1="77.0" y1="480.60" x2="80" y2="480.60" stroke="#000" stroke-width="1.1"/>
<line x1="77.0" y1="451.70" x2="80" y2="451.70" stroke="#000" stroke-width="1.1"/>
<line x1="77.0" y1="422.79" x2="80" y2="422.79" stroke="#000" stroke-width="1.1"/>
<line x1="74.0" y1="394.30" x2="80" y2="394.30" stroke="#000" stroke-width="1.5"/>
<line x1="77.0" y1="364.97" x2="80" y2="364.97" stroke="#000" stroke-width="1.1"/>
<line x1="77.0" y1="336.06" x2="80" y2="336.06" stroke="#000" stroke-width="1.1"/>
<line x1="77.0" y1="307.16" x2="80" y2="307.16" stroke="#000" stroke-width="1.1"/>
<line x1="77.0" y1="278.25" x2="80" y2="278.25" stroke="#000" stroke-width="1.1"/>
<line x1="74.0" y1="250.50" x2="80" y2="250.50" stroke="#000" stroke-width="1.5"/>
<line x1="77.0" y1="220.43" x2="80" y2="220.43" stroke="#000" stroke-width="1.1"/>
<line x1="77.0" y1="191.52" x2="80" y2="191.52" stroke="#000" stroke-width="1.1"/>
<line x1="77.0" y1="162.62" x2="80" y2="162.62" stroke="#000" stroke-width="1.1"/>
<line x1="77.0" y1="133.71" x2="80" y2="133.71" stroke="#000" stroke-width="1.1"/>
<line x1="74.0" y1="105.00" x2="80" y2="105.00" stroke="#000" stroke-width="1.5"/>
<line x1="77.0" y1="75.89" x2="80" y2="75.89" stroke="#000" stroke-width="1.1"/>
<line x1="77.0" y1="46.98" x2="80" y2="46.98" stroke="#000" stroke-width="1.1"/>
<line x1="74.0" y1="31.40" x2="80" y2="31.40" stroke="#000" stroke-width="1.5"/>
<line x1="96.04" y1="827.5" x2="96.04" y2="830.5" stroke="#000" stroke-width="1.1"/>
<line x1="111.30" y1="827.5" x2="111.30" y2="833.5" stroke="#000" stroke-width="1.5"/>
<line x1="211.68" y1="827.5" x2="211.68" y2="830.5" stroke="#000" stroke-width="1.1"/>
<line x1="270.40" y1="827.5" x2="270.40" y2="830.5" stroke="#000" stroke-width="1.1"/>
<line x1="312.06" y1="827.5" x2="312.06" y2="830.5" stroke="#000" stroke-width="1.1"/>
<line x1="344.37" y1="827.5" x2="344.37" y2="830.5" stroke="#000" stroke-width="1.1"/>
<line x1="370.77" y1="827.5" x2="370.77" y2="830.5" stroke="#000" stroke-width="1.1"/>
<line x1="393.10" y1="827.5" x2="393.10" y2="830.5" stroke="#000" stroke-width="1.1"/>
<line x1="412.44" y1="827.5" x2="412.44" y2="830.5" stroke="#000" stroke-width="1.1"/>
<line x1="429.49" y1="827.5" x2="429.49" y2="830.5" stroke="#000" stroke-width="1.1"/>
<line x1="444.75" y1="827.5" x2="444.75" y2="833.5" stroke="#000" stroke-width="1.5"/>
<line x1="544.71" y1="827.5" x2="544.71" y2="830.5" stroke="#000" stroke-width="1.1"/>
<line x1="603.18" y1="827.5" x2="603.18" y2="830.5" stroke="#000" stroke-width="1.1"/>
<line x1="644.66" y1="827.5" x2="644.66" y2="830.5" stroke="#000" stroke-width="1.1"/>
<line x1="676.84" y1="827.5" x2="676.84" y2="830.5" stroke="#000" stroke-width="1.1"/>
<line x1="703.14" y1="827.5" x2="703.14" y2="830.5" stroke="#000" stroke-width="1.1"/>
<line x1="725.36" y1="827.5" x2="725.36" y2="830.5" stroke="#000" stroke-width="1.1"/>
<line x1="744.62" y1="827.5" x2="744.62" y2="830.5" stroke="#000" stroke-width="1.1"/>
<line x1="761.61" y1="827.5" x2="761.61" y2="830.5" stroke="#000" stroke-width="1.1"/>
<line x1="776.80" y1="827.5" x2="776.80" y2="833.5" stroke="#000" stroke-width="1.5"/>
<line x1="876.76" y1="827.5" x2="876.76" y2="830.5" stroke="#000" stroke-width="1.1"/>
<line x1="80" y1="827.5" x2="80" y2="833.5" stroke="#000" stroke-width="1.5"/>
<line x1="881.6" y1="827.5" x2="881.6" y2="833.5" stroke="#000" stroke-width="1.5"/>
<line x1="74" y1="827.5" x2="80" y2="827.5" stroke="#000" stroke-width="1.5"/>
<line x1="74" y1="31.4" x2="80" y2="31.4" stroke="#000" stroke-width="1.5"/>
<text transform="translate(62 827.10) rotate(-90) scale(0.93 1)" text-anchor="middle" class="t">0</text>
<text transform="translate(62 682.80) rotate(-90) scale(0.93 1)" text-anchor="middle" class="t">20</text>
<text transform="translate(62 538.30) rotate(-90) scale(0.93 1)" text-anchor="middle" class="t">40</text>
<text transform="translate(62 393.40) rotate(-90) scale(0.93 1)" text-anchor="middle" class="t">60</text>
<text transform="translate(62 249.40) rotate(-90) scale(0.93 1)" text-anchor="middle" class="t">80</text>
<text transform="translate(62 103.90) rotate(-90) scale(0.93 1)" text-anchor="middle" class="t">100</text>
<text transform="translate(62 32.40) rotate(-90) scale(0.93 1)" text-anchor="middle" class="t">110</text>
<text transform="translate(67.13 860.5) scale(0.96 1)" class="t">10</text><text transform="translate(88.56 851.3) scale(0.96 1)" class="s">3.9</text>
<text transform="translate(430.23 860.5) scale(0.96 1)" class="t">10</text><text transform="translate(450.90 851.3) scale(0.96 1)" class="s">5</text>
<text transform="translate(762.03 860.5) scale(0.96 1)" class="t">10</text><text transform="translate(784.13 851.3) scale(0.96 1)" class="s">6</text>
<text transform="translate(858.23 860.5) scale(0.96 1)" class="t">10</text><text transform="translate(879.63 851.3) scale(0.96 1)" class="s">6.3</text>
<text x="447.2" y="895.5" class="t">FITC-A</text>
<text transform="translate(26.7 429.8) rotate(-90)" text-anchor="middle" class="l" style="font-size:21px;word-spacing:3.5px">Count (%)</text>
<rect x="639.8" y="58.1" width="45" height="13.7" fill="#fde0e3" stroke="#983a3a" stroke-width="1.5"/>
<rect x="639.8" y="89.2" width="45" height="13.8" fill="#e0f3e2" stroke="#286a2e" stroke-width="1.5"/>
<text x="695.9" y="71.6" class="l">anti- human CD33</text>
<text x="696.5" y="102.6" class="l">isotype control</text>
</svg>
</body></html>
